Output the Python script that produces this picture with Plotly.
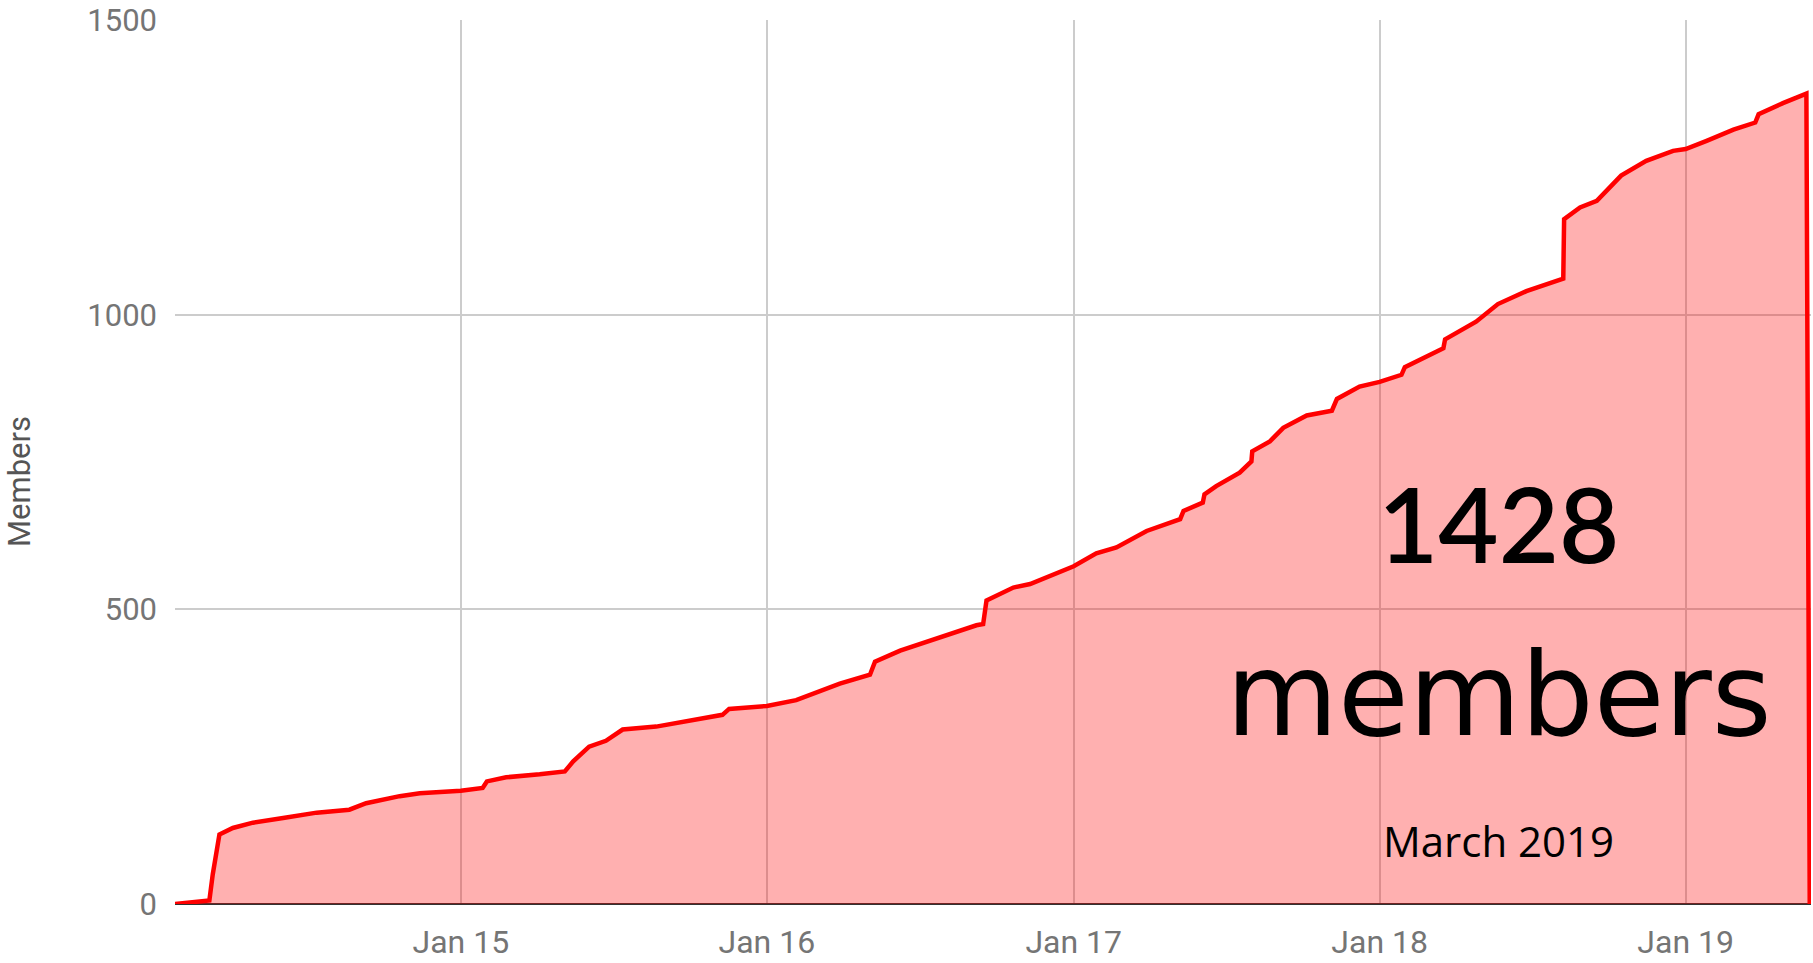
import plotly.graph_objects as go

# Membership count (date, members)
dates = [
    "2014-01-25", "2014-02-24", "2014-03-07", "2014-03-11", "2014-03-19",
    "2014-04-04", "2014-04-28", "2014-06-03", "2014-07-13", "2014-08-21",
    "2014-09-10", "2014-10-20", "2014-11-13", "2015-01-01", "2015-01-27",
    "2015-02-01", "2015-02-24", "2015-04-05", "2015-05-05", "2015-05-15",
    "2015-06-03", "2015-06-23", "2015-07-13", "2015-08-22", "2015-10-01",
    "2015-11-09", "2015-11-17", "2016-01-01", "2016-02-05", "2016-03-08",
    "2016-03-28", "2016-05-03", "2016-05-09", "2016-06-08", "2016-07-13",
    "2016-09-07", "2016-09-15", "2016-09-19", "2016-10-21", "2016-11-10",
    "2017-01-01", "2017-01-28", "2017-02-21", "2017-03-29", "2017-05-08",
    "2017-05-12", "2017-06-04", "2017-06-06", "2017-06-20", "2017-07-18",
    "2017-08-01", "2017-08-02", "2017-08-23", "2017-09-08", "2017-10-06",
    "2017-11-05", "2017-11-11", "2017-12-08", "2018-01-01", "2018-01-27",
    "2018-01-31", "2018-03-18", "2018-03-20", "2018-04-26", "2018-05-22",
    "2018-06-25", "2018-08-08", "2018-08-09", "2018-08-28", "2018-09-17",
    "2018-10-16", "2018-11-15", "2018-12-17", "2019-01-01", "2019-01-26",
    "2019-02-27", "2019-03-25", "2019-03-29", "2019-04-27", "2019-05-25",
    "2019-05-29",
]
members = [
    0, 4, 6, 50, 118,
    129, 138, 146, 155, 160,
    171, 183, 188, 192, 197,
    208, 215, 220, 225, 242,
    267, 277, 296, 301, 312,
    321, 331, 336, 346, 363,
    374, 389, 411, 430, 447,
    473, 475, 515, 537, 543,
    573, 595, 605, 633, 653,
    667, 681, 695, 709, 732,
    751, 768, 785, 808, 829,
    837, 857, 878, 886, 898,
    911, 943, 958, 988, 1018,
    1040, 1061, 1162, 1182, 1193,
    1236, 1261, 1278, 1281, 1295,
    1314, 1326, 1340, 1359, 1375,
    0,
]

y_ticks = [0, 500, 1000, 1500]
x_range = ["2014-01-25", "2019-05-30 12:00"]
headline = "1428"
headline2 = "members"
subtitle = "March 2019"
axis_title = "Members"

fig = go.Figure()
fig.add_trace(go.Scatter(
    x=dates, y=members, mode="lines",
    line=dict(color="#ff0000", width=4.5),
    fill="tozeroy", fillcolor="rgba(255,0,0,0.31)",
    hoverinfo="skip",
))

fig.update_layout(
    width=1813, height=963,
    margin=dict(l=175, r=2, t=19, b=56),
    paper_bgcolor="white", plot_bgcolor="white",
    showlegend=False,
    font=dict(family="Roboto", color="#757575"),
    xaxis=dict(
        type="date", range=x_range,
        tick0="2015-01-01", dtick="M12", tickformat="%b %y",
        showgrid=True, gridcolor="#cccccc", gridwidth=2,
        ticks="", showline=False, zeroline=False,
        tickfont=dict(family="Roboto", size=32, color="#757575"),
        ticklabelstandoff=16,
    ),
    yaxis=dict(
        range=[0, 1500], tickvals=y_ticks,
        showgrid=True, gridcolor="#cccccc", gridwidth=2,
        zeroline=True, zerolinecolor="#333333", zerolinewidth=2,
        ticks="", showline=False,
        tickfont=dict(family="Roboto", size=31, color="#757575"),
        ticklabelstandoff=17, ticklabeloverflow="allow",
    ),
)

fig.add_annotation(
    text=axis_title, textangle=-90, xref="paper", yref="paper",
    x=-0.095, y=0.478, xanchor="center", yanchor="middle", showarrow=False,
    font=dict(family="Roboto", size=31, color="#555555"),
)
fig.add_annotation(
    text=headline, xref="paper", yref="paper", x=0.809, y=0.432,
    xanchor="center", yanchor="middle", showarrow=False,
    font=dict(family="Lato", size=104, color="#000000", weight=600),
)
fig.add_annotation(
    text=headline2, xref="paper", yref="paper", x=0.809, y=0.236,
    xanchor="center", yanchor="middle", showarrow=False,
    font=dict(family="DejaVu Sans", size=115, color="#000000"),
)
fig.add_annotation(
    text=subtitle, xref="paper", yref="paper", x=0.809, y=0.072,
    xanchor="center", yanchor="middle", showarrow=False,
    font=dict(family="Open Sans", size=42, color="#000000"),
)

fig.write_html(
    "out.html",
    config={"displayModeBar": False},
    post_script="document.body.style.margin='0';",
)
